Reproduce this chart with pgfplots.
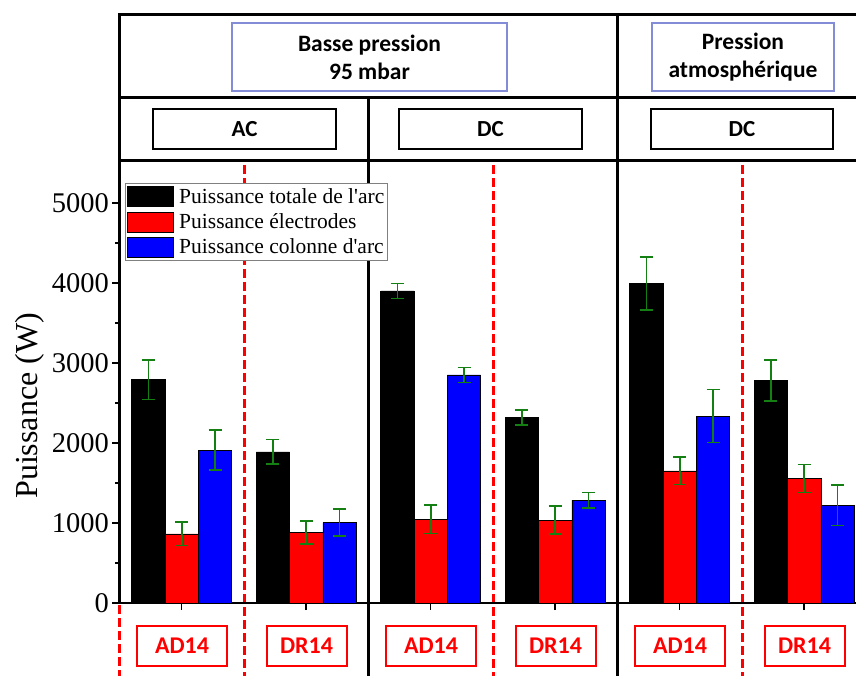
\documentclass[border=0pt]{standalone}
\usepackage{pgfplots}
\pgfplotsset{compat=1.18}
\usepackage{fontspec}
\setmainfont{Liberation Serif}
\newfontfamily\hdr{Carlito}
\definecolor{errgreen}{RGB}{20,128,20}
\definecolor{hdrblue}{RGB}{130,140,215}
\pgfplotstableread{
x y e
0 2790 245
1 1890 155
2 3900 96
3 2320 96
4 3995 330
5 2780 254
}\totale
\pgfplotstableread{
x y e
0 865 145
1 880 145
2 1045 178
3 1037 175
4 1652 171
5 1555 175
}\electrodes
\pgfplotstableread{
x y e
0 1910 250
1 1005 167
2 2850 96
3 1285 96
4 2337 333
5 1221 254
}\colonne
\begin{document}
\begin{tikzpicture}
\path[use as bounding box] (-119.5pt,-72pt) rectangle (736.5pt,603pt);
% separators
\begin{scope}[line width=3pt]
\draw (-1.5pt,588.5pt) -- (745pt,588.5pt);
\draw (0pt,505pt) -- (745pt,505pt);
\draw (0pt,442pt) -- (745pt,442pt);
\draw (0pt,442pt) -- (0pt,590pt);
\draw (249pt,-80pt) -- (249pt,505pt);
\draw (498pt,-80pt) -- (498pt,588.5pt);
\end{scope}
\begin{scope}[red, line width=3pt, dash pattern=on 9pt off 4pt]
\foreach \x in {124.5,373.5,622.5} \draw (\x pt,438pt) -- (\x pt,-75pt);
\draw (0pt,-2pt) -- (0pt,-75pt);
\end{scope}
% header boxes
\tikzset{hb/.style={line width=1.6pt, draw=hdrblue, align=center, minimum height=68pt, inner sep=0pt, font=\hdr\bfseries\fontsize{23.5}{28}\selectfont},
 kb/.style={line width=2.5pt, draw=black, minimum height=40pt, inner sep=0pt, font=\hdr\bfseries\fontsize{23}{26}\selectfont},
 rb/.style={line width=2pt, draw=red, text=red, minimum height=40pt, inner sep=0pt, font=\hdr\bfseries\fontsize{24}{27}\selectfont}}
\node[hb, minimum width=275pt] at (250pt,546pt) {Basse pression\\95 mbar};
\node[hb, minimum width=182pt] at (623.5pt,546pt) {Pression\\atmosphérique};
\node[kb, minimum width=183pt] at (125pt,474pt) {AC};
\node[kb, minimum width=183pt] at (371pt,474pt) {DC};
\node[kb, minimum width=182pt] at (622.5pt,474pt) {DC};
\foreach \c in {62.5,311.5,560.5} \node[rb, minimum width=90pt] at (\c pt,-43pt) {AD14};
\foreach \c in {187,436,685} \node[rb, minimum width=80pt] at (\c pt,-43pt) {DR14};
\begin{axis}[
  at={(0pt,0pt)}, anchor=south west,
  scale only axis, width=736.5pt, height=442pt,
  xmin=-0.5, xmax=5.416, ymin=0, ymax=5525,
  clip=false,
  axis x line*=bottom, axis y line*=left,
  axis line style={line width=2.5pt},
  ytick={0,1000,...,5000}, minor ytick={500,1500,...,4500},
  xtick={0,...,5}, xticklabels={},
  tick align=outside, major tick length=7pt, minor tick length=4pt,
  tick style={black, line width=1.5pt},
  /pgf/number format/assume math mode=true,
  /pgf/number format/1000 sep={},
  yticklabel style={font=\fontsize{28.5}{32}\selectfont},
  ylabel={Puissance (W)},
  every axis y label/.style={at={(rel axis cs:-0.1215,0.446)}, rotate=90, anchor=center, font=\fontsize{32}{36}\selectfont},
  ybar=0pt, bar width=33.3pt,
  legend style={at={(0.0075,0.95)}, anchor=north west, draw=black!50, line width=0.8pt,
    font=\fontsize{21.5}{24}\selectfont, fill=white, inner xsep=1.5pt, inner ysep=3pt, nodes={inner sep=2pt}, row sep=4.5pt},
  legend cell align=left,
  legend image code/.code={\draw[#1, draw=black, line width=0.6pt] (0pt,-10pt) rectangle (46pt,10pt); \path[draw=none, fill=none] (0pt,0pt) -- (50pt,0pt);},
  eb/.style={error bars/.cd, y dir=both, y explicit,
    error bar style={draw=errgreen, line width=1.6pt},
    error mark options={rotate=90, draw=errgreen, mark size=6.5pt, line width=1.6pt}},
]
\addplot[fill=black, draw=black, line width=0.6pt, eb] table[x=x, y=y, y error=e] {\totale};
\addplot[fill=red, draw=black, line width=0.6pt, eb] table[x=x, y=y, y error=e] {\electrodes};
\addplot[fill=blue, draw=black, line width=0.6pt, eb] table[x=x, y=y, y error=e] {\colonne};
\legend{Puissance totale de l\textquotesingle arc, Puissance électrodes, Puissance colonne d\textquotesingle arc}
\end{axis}
\end{tikzpicture}
\end{document}
